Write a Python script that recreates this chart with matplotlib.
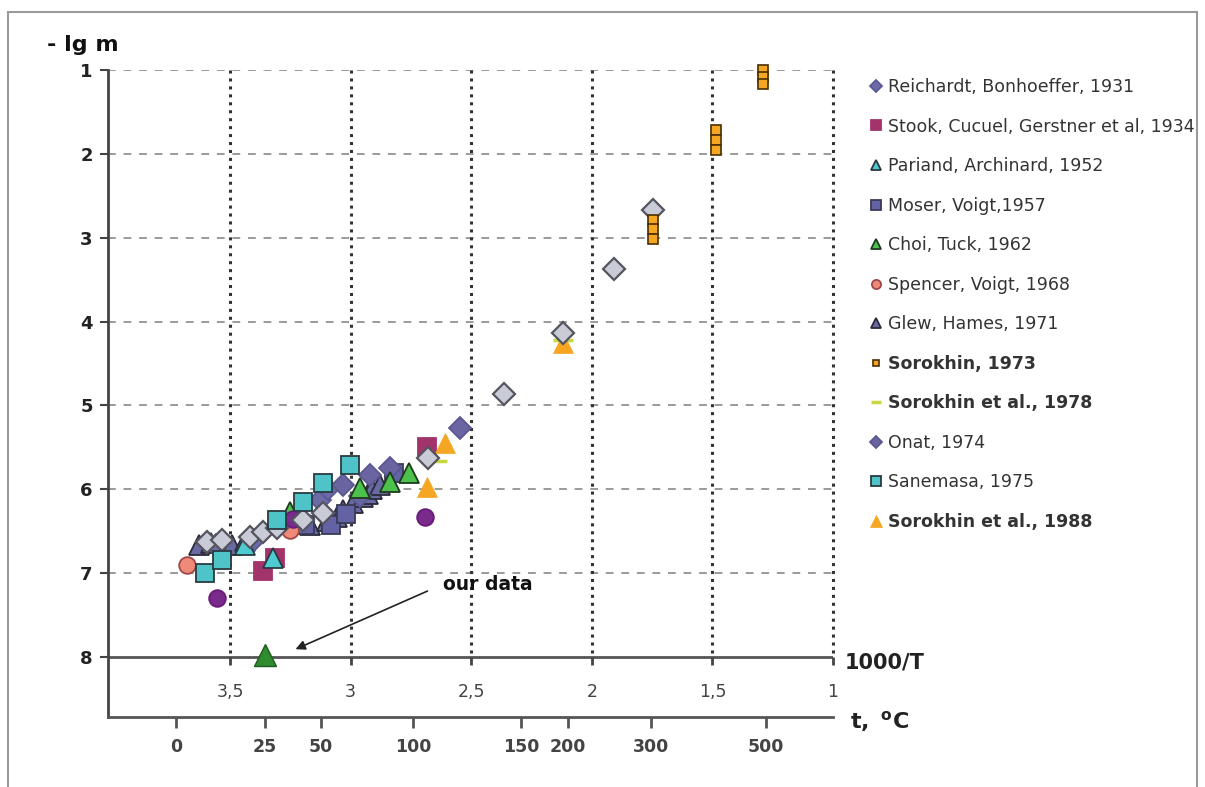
import matplotlib
matplotlib.use('Agg')
import matplotlib.pyplot as plt
from matplotlib.patches import Rectangle

# x values are 1000/T, y values are -lg m
reich_x = [3.56, 3.40, 3.127, 3.094]
reich_y = [6.66, 6.60, 6.13, 6.00]
stook_x = [3.362, 3.313, 2.683]
stook_y = [6.98, 6.82, 5.50]
pariand_x = [3.44, 3.322]
pariand_y = [6.66, 6.82]
moser_x = [3.19, 3.08, 3.02, 2.82]
moser_y = [6.42, 6.43, 6.30, 5.80]
choi_x = [3.25, 2.96, 2.837, 2.758]
choi_y = [6.27, 5.98, 5.91, 5.80]
spencer_x = [3.678, 3.251]
spencer_y = [6.90, 6.49]
glew_x = [3.63, 3.58, 3.49, 3.44, 3.17, 3.10, 3.056, 3.03, 2.99, 2.95, 2.93, 2.91, 2.88]
glew_y = [6.66, 6.64, 6.66, 6.62, 6.42, 6.38, 6.33, 6.25, 6.16, 6.09, 6.05, 6.00, 5.95]
sor73_x = [1.29, 1.29, 1.29, 1.485, 1.485, 1.485, 1.746, 1.746, 1.746]
sor73_y = [1.00, 1.08, 1.17, 1.72, 1.83, 1.95, 2.79, 2.90, 3.02]
sor78_x = [2.12, 2.64]
sor78_y = [4.22, 5.66]
onat_x = [2.546, 3.03, 2.92, 2.837, 2.96]
onat_y = [5.27, 5.95, 5.83, 5.75, 6.08]
sanemasa_x = [3.604, 3.533, 3.305, 3.197, 3.114, 3.002]
sanemasa_y = [7.00, 6.84, 6.37, 6.15, 5.93, 5.71]
sor88_x = [2.12, 2.609, 2.683]
sor88_y = [4.26, 5.45, 5.97]
# points without legend entry
gray_x = [1.746, 1.908, 2.12, 2.364, 2.679, 3.595, 3.533, 3.417, 3.363, 3.305, 3.197, 3.114]
gray_y = [2.67, 3.37, 4.14, 4.86, 5.63, 6.63, 6.60, 6.57, 6.51, 6.46, 6.37, 6.28]
purple_x = [3.554, 2.69, 3.24]
purple_y = [7.30, 6.33, 6.35]
our_x = [3.355]
our_y = [7.98]

inv_ticks = [3.5, 3.0, 2.5, 2.0, 1.5, 1.0]
inv_labels = ['3,5', '3', '2,5', '2', '1,5', '1']
t_tick_pos = [3.724, 3.355, 3.123, 2.741, 2.294, 2.099, 1.755, 1.278]
t_labels = ['0', '25', '50', '100', '150', '200', '300', '500']

fig = plt.figure(figsize=(12.05, 7.87), dpi=100)
ax = fig.add_axes([108 / 1205, 1 - 717 / 787, 725 / 1205, 647 / 787])
xl = 4.006
ax.set_xlim(xl, 1.0)
ax.set_ylim(8.715, 1.0)

# grid
ax.hlines(range(1, 8), xl, 1.0, colors='#9a9a9a', linestyles=(0, (4, 4)), lw=1.4, zorder=1)
ax.vlines(inv_ticks, 1, 8, colors='#333333', linestyles=(0, (1, 1.6)), lw=2.2, zorder=1, clip_on=False)
ax.axhline(8, color='#555555', lw=2, zorder=2)
ax.vlines(inv_ticks, 8, 8.09, colors='#444444', lw=2, zorder=2, clip_on=False)
for xv, lab in zip(inv_ticks, inv_labels):
    ax.text(xv, 8.42, lab, ha='center', va='center', fontsize=12.5, color='#444444')

def pts(x, y, m, ms, fc, ec, mew=1.3, label='_nolegend_', z=3):
    return ax.plot(x, y, ls='none', marker=m, ms=ms, mfc=fc, mec=ec, mew=mew,
                   label=label, zorder=z, clip_on=False)[0]

h_glew = pts(glew_x, glew_y, '^', 14, '#6a6aa2', '#2a2a3a', label='Glew, Hames, 1971')
h_moser = pts(moser_x, moser_y, 's', 13, '#6262a4', '#3a3a55', label='Moser, Voigt,1957')
h_reich = pts(reich_x, reich_y, 'D', 11, '#6d6aa8', '#5a5896', label='Reichardt, Bonhoeffer, 1931')
h_onat = pts(onat_x, onat_y, 'D', 11, '#6b64a2', '#5a5890', label='Onat, 1974')
h_choi = pts(choi_x, choi_y, '^', 14, '#4cc24c', '#1e3a1e', label='Choi, Tuck, 1962')
h_spencer = pts(spencer_x, spencer_y, 'o', 12, '#f08a78', '#a04848', label='Spencer, Voigt, 1968')
pts(purple_x, purple_y, 'o', 12, '#7a2a8a', '#6a1a7a')
h_stook = pts(stook_x, stook_y, 's', 13, '#a3336b', '#a3336b', label='Stook, Cucuel, Gerstner et al, 1934')
h_pariand = pts(pariand_x, pariand_y, '^', 14, '#4ecbd0', '#2a3a40', label='Pariand, Archinard, 1952')
h_sor78 = pts(sor78_x, sor78_y, '_', 14, '#c8d640', '#c8d640', mew=2.5, label='Sorokhin et al., 1978')
h_sor88 = pts(sor88_x, sor88_y, '^', 15, '#f5a623', '#f5a623', mew=0.5, label='Sorokhin et al., 1988')
pts(gray_x, gray_y, 'D', 11, '#c9cbd6', '#55555f', mew=1.6, z=4)
h_sane = pts(sanemasa_x, sanemasa_y, 's', 13, '#4ec3c8', '#2a3a40', label='Sanemasa, 1975', z=5)
h_sor73 = pts(sor73_x, sor73_y, 's', 7, '#f5a623', '#4a3000', mew=1.2, label='Sorokhin, 1973', z=5)
pts(our_x, our_y, '^', 16, '#2e8b2e', '#1e5a1e', mew=1, z=6)

ax.annotate('', xy=(3.239, 7.92), xytext=(2.671, 7.2),
            arrowprops=dict(arrowstyle='-|>', color='#222222', lw=1.2, mutation_scale=14))
ax.text(2.617, 7.13, 'our data', ha='left', va='center', fontsize=13.5, fontweight='bold', color='#111111')

# axes styling
for s in ['top', 'right']:
    ax.spines[s].set_visible(False)
ax.spines['left'].set_color('#444444')
ax.spines['left'].set_linewidth(2)
ax.spines['bottom'].set_color('#555555')
ax.spines['bottom'].set_linewidth(2)
ax.set_yticks(range(1, 9))
ax.set_yticklabels([str(v) for v in range(1, 9)])
ax.tick_params(axis='y', length=6, width=1.5, color='#444444', labelsize=13, pad=5, labelcolor='#222222')
ax.set_xticks(t_tick_pos)
ax.set_xticklabels(t_labels)
ax.tick_params(axis='x', length=8, width=2, color='#555555', labelsize=12.5, pad=7, labelcolor='#444444')
for lab in ax.get_yticklabels() + ax.get_xticklabels():
    lab.set_fontweight('bold')

fig.text(47 / 1205, 1 - 45 / 787, '- lg m', fontsize=16, fontweight='bold', va='center', color='#111111')
fig.text(845 / 1205, 1 - 663 / 787, '1000/T', fontsize=15, fontweight='bold', va='center', color='#222222')
fig.text(850 / 1205, 1 - 722 / 787, r'$\mathbf{t,\ ^{o}C}$', fontsize=16, va='center', color='#222222')

handles = [h_reich, h_stook, h_pariand, h_moser, h_choi, h_spencer, h_glew,
           h_sor73, h_sor78, h_onat, h_sane, h_sor88]
leg = ax.legend(handles=handles, loc='upper left', bbox_to_anchor=(869 / 1205, 1 - 78 / 787),
                bbox_transform=fig.transFigure, frameon=False, fontsize=12.5, markerscale=0.55,
                handlelength=0.8, handletextpad=0.3, labelspacing=1.24, borderpad=0, borderaxespad=0)
for t in leg.get_texts():
    t.set_color('#333333')
    if 'Sorokhin' in t.get_text():
        t.set_fontweight('bold')

fig.patches.append(Rectangle((8 / 1205, -0.02), 1189 / 1205, 1 - 12 / 787 + 0.02,
                             transform=fig.transFigure, fill=False, ec='#9a9a9a', lw=1.5))

fig.savefig('out.png', dpi=100)
